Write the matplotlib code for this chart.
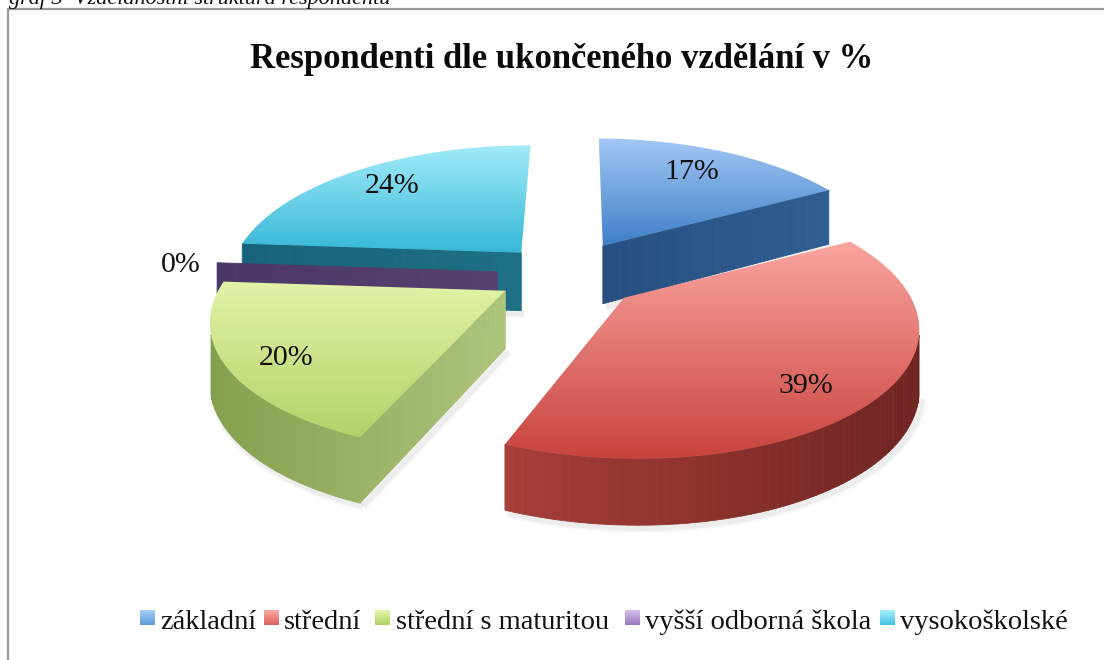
import numpy as np
import matplotlib
matplotlib.use('agg')
import matplotlib.pyplot as plt
from matplotlib.colors import LinearSegmentedColormap, to_rgb
from matplotlib.patches import Polygon

CATEGORIES = ["základní", "střední", "střední s maturitou", "vyšší odborná škola", "vysokoškolské"]
VALUES = [17, 39, 20, 0, 24]
TITLE = "Respondenti dle ukončeného vzdělání v %"
CAPTION = "graf 3  Vzdělanostní struktura respondentů"

# look of the slices
EXPLODE = [0.25, 0.27, 0.24, 0.232, 0.22]
RADIUS = [0.97, 0.98, 0.98, 0.975, 0.97]
TOP_COLORS = [("#a3c8f5", "#3f7fc6"), ("#fba6a0", "#c9433e"), ("#e2f3a8", "#b4d268"),
              ("#c9b2e6", "#8a6cb0"), ("#a2ebfa", "#36b8d6")]
SIDE_COLORS = [("#274f7e", "#2f5f92"), ("#a83f39", "#6f2522"), ("#84a04e", "#adc47c"),
               ("#4a3768", "#57406f"), ("#17637a", "#1f6f85")]
LEGEND_COLORS = [("#a8cdf8", "#5a9bd8"), ("#fca9a3", "#dd635c"), ("#e3f7a8", "#b2d264"),
                 ("#d5c0ee", "#9b78bd"), ("#a5f0fc", "#44c2e2")]
LABEL_POS = [(692, 172), (806, 386), (286, 358), (181, 265), (392, 186)]
LEGEND_SWATCH_X = [140, 264, 375, 625, 880]
LEGEND_TEXT_X = [160, 284, 396, 645, 900]

CX, CY = 565, 274
A, B, K, DEPTH = 293, 132, 0.2, 58
ROTATE = np.radians(0.5)
SERIF = "Liberation Serif"


def slice_outline(start, end, explode, radius):
    # apex, arc, apex on screen; angles clockwise from 12 o'clock
    mid = (start + end) / 2
    ox, oy = explode * np.sin(mid), explode * np.cos(mid)
    ts = np.linspace(0, 1, 30)
    angles = np.linspace(start, end, 90)
    px = radius * np.concatenate([ts * np.sin(start), np.sin(angles), (1 - ts) * np.sin(end)])
    py = radius * np.concatenate([ts * np.cos(start), np.cos(angles), (1 - ts) * np.cos(end)])
    s = 1 / (1 + K * py)
    sx = CX + A * (px + ox) * s
    sy = CY - B * oy - B * py * s
    return sx, sy, DEPTH * (1 - 0.15 * py)


def gradient_fill(ax, poly, colors, zorder):
    xs, ys = poly[:, 0], poly[:, 1]
    cmap = LinearSegmentedColormap.from_list("g", colors)
    grad = np.linspace(0, 1, 256).reshape(-1, 1)
    im = ax.imshow(grad, cmap=cmap, aspect='auto', zorder=zorder, vmin=0, vmax=1,
                   extent=(xs.min(), xs.max() + 0.01, ys.max() + 0.01, ys.min()))
    patch = Polygon(poly, closed=True, transform=ax.transData)
    im.set_clip_path(patch)


def draw_slice(ax, i, start, end, zorder):
    sx, sy, d = slice_outline(start, end, EXPLODE[i], RADIUS[i])
    left, right = np.array(to_rgb(SIDE_COLORS[i][0])), np.array(to_rgb(SIDE_COLORS[i][1]))
    span = max(sx.max() - sx.min(), 1)
    front = [j for j in range(len(sx) - 1) if sx[j + 1] - sx[j] < -0.4]

    # soft shadow under the visible bottom edge
    for j in front:
        for lw, alpha in ((7, 0.035), (4, 0.07)):
            ax.plot([sx[j] + 3, sx[j + 1] + 3], [sy[j] + d[j] + 3, sy[j + 1] + d[j + 1] + 3],
                    color="#555555", lw=lw, alpha=alpha, zorder=zorder, solid_capstyle='butt')

    # extruded side, only edges facing the viewer
    for j in front:
        t = (sx[j] - sx.min()) / span
        c = left + (right - left) * t
        quad = [(sx[j], sy[j]), (sx[j + 1], sy[j + 1]),
                (sx[j + 1], sy[j + 1] + d[j + 1]), (sx[j], sy[j] + d[j])]
        ax.add_patch(Polygon(quad, closed=True, fc=c, ec=c, lw=0.6, zorder=zorder + 0.1))

    if end - start > 0.001:
        gradient_fill(ax, np.column_stack([sx, sy]), TOP_COLORS[i], zorder + 0.2)


def main():
    fig = plt.figure(figsize=(11.04, 6.6), dpi=100)
    ax = fig.add_axes([0, 0, 1, 1])

    # frame, open on the right and bottom
    ax.plot([8, 8, 1104], [660, 9, 9], color="#9a9a9a", lw=1.6, zorder=1)
    ax.text(9, 4, CAPTION, fontsize=16, style='italic', family=SERIF, color="#111111", va='baseline')

    ax.text(562, 68, TITLE, fontsize=24.9, fontweight='bold', family=SERIF, ha='center', va='baseline', color="#0a0a0a")

    bounds = np.concatenate([[0], np.cumsum(VALUES)]) / sum(VALUES) * 2 * np.pi + ROTATE
    # back slices first
    for z, i in enumerate([0, 4, 3, 2, 1]):
        draw_slice(ax, i, bounds[i], bounds[i + 1], 2 + z)

    for v, (x, y) in zip(VALUES, LABEL_POS):
        ax.text(x, y, f"{v}%", fontsize=21.5, family=SERIF, ha='center', va='center', color="#111111", zorder=20)

    # legend
    for name, sx, tx, colors in zip(CATEGORIES, LEGEND_SWATCH_X, LEGEND_TEXT_X, LEGEND_COLORS):
        cmap = LinearSegmentedColormap.from_list("l", colors)
        ax.imshow(np.linspace(0, 1, 32).reshape(-1, 1), cmap=cmap, aspect='auto',
                  extent=(sx, sx + 15, 625, 610), zorder=3)
        ax.text(tx, 629, name, fontsize=20.5, family=SERIF, va='baseline', color="#111111")

    ax.set_xlim(0, 1104)
    ax.set_ylim(660, 0)
    ax.axis('off')
    fig.savefig("out.png", dpi=100, facecolor="white")


if __name__ == '__main__':
    main()
